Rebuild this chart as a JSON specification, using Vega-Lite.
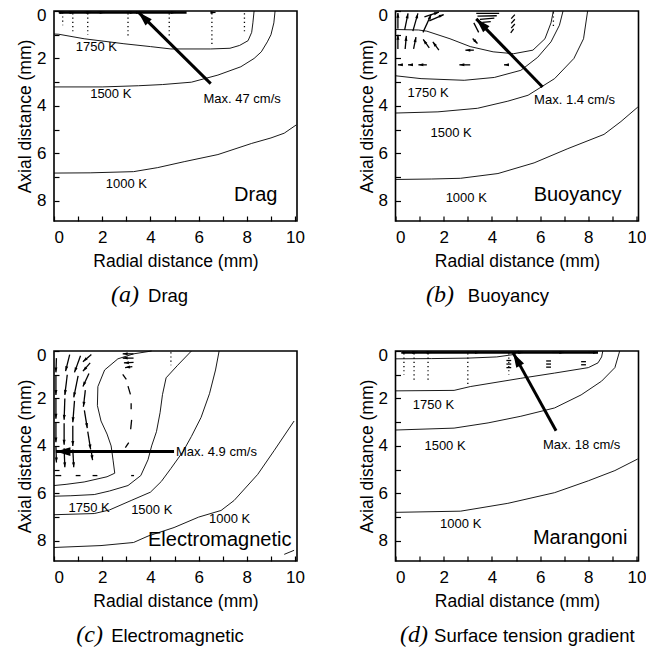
{
"$schema": "https://vega.github.io/schema/vega-lite/v6.json",
"padding": {"left": 15, "top": 5, "right": 0, "bottom": 0},
"datasets": {"all": [
{"p":"a","k":"c","g":1,"x":0,"y":0.97},{"p":"a","k":"c","g":1,"x":0.2,"y":0.98},{"p":"a","k":"c","g":1,"x":1.25,"y":1.17},{"p":"a","k":"c","g":1,"x":2.9,"y":1.38},{"p":"a","k":"c","g":1,"x":4.0,"y":1.5},{"p":"a","k":"c","g":1,"x":4.85,"y":1.6},{"p":"a","k":"c","g":1,"x":6.5,"y":1.6},{"p":"a","k":"c","g":1,"x":7.3,"y":1.57},{"p":"a","k":"c","g":1,"x":7.7,"y":1.45},{"p":"a","k":"c","g":1,"x":8.05,"y":1.25},{"p":"a","k":"c","g":1,"x":8.2,"y":0.9},{"p":"a","k":"c","g":1,"x":8.25,"y":0.5},{"p":"a","k":"c","g":1,"x":8.3,"y":0},
{"p":"a","k":"c","g":2,"x":0,"y":3.2},{"p":"a","k":"c","g":2,"x":2.0,"y":3.2},{"p":"a","k":"c","g":2,"x":3.5,"y":3.15},{"p":"a","k":"c","g":2,"x":4.5,"y":3.1},{"p":"a","k":"c","g":2,"x":5.7,"y":3.0},{"p":"a","k":"c","g":2,"x":6.8,"y":2.7},{"p":"a","k":"c","g":2,"x":7.75,"y":2.35},{"p":"a","k":"c","g":2,"x":8.3,"y":2.0},{"p":"a","k":"c","g":2,"x":8.6,"y":1.72},{"p":"a","k":"c","g":2,"x":8.85,"y":1.3},{"p":"a","k":"c","g":2,"x":9.0,"y":1.0},{"p":"a","k":"c","g":2,"x":9.12,"y":0.5},{"p":"a","k":"c","g":2,"x":9.17,"y":0},
{"p":"a","k":"c","g":3,"x":0,"y":6.83},{"p":"a","k":"c","g":3,"x":1.5,"y":6.82},{"p":"a","k":"c","g":3,"x":3.3,"y":6.77},{"p":"a","k":"c","g":3,"x":4.3,"y":6.6},{"p":"a","k":"c","g":3,"x":5.4,"y":6.35},{"p":"a","k":"c","g":3,"x":6.8,"y":6.05},{"p":"a","k":"c","g":3,"x":8.2,"y":5.58},{"p":"a","k":"c","g":3,"x":9.0,"y":5.35},{"p":"a","k":"c","g":3,"x":9.55,"y":5.15},{"p":"a","k":"c","g":3,"x":10.05,"y":4.8},
{"p":"b","k":"c","g":1,"x":0,"y":0.78},{"p":"b","k":"c","g":1,"x":0.95,"y":0.8},{"p":"b","k":"c","g":1,"x":1.3,"y":0.85},{"p":"b","k":"c","g":1,"x":2.26,"y":1.17},{"p":"b","k":"c","g":1,"x":3.1,"y":1.5},{"p":"b","k":"c","g":1,"x":4.05,"y":1.72},{"p":"b","k":"c","g":1,"x":4.9,"y":1.8},{"p":"b","k":"c","g":1,"x":5.7,"y":1.65},{"p":"b","k":"c","g":1,"x":6.2,"y":1.17},{"p":"b","k":"c","g":1,"x":6.45,"y":0.5},{"p":"b","k":"c","g":1,"x":6.55,"y":0},
{"p":"b","k":"c","g":2,"x":0,"y":2.73},{"p":"b","k":"c","g":2,"x":1.06,"y":2.85},{"p":"b","k":"c","g":2,"x":2.85,"y":2.92},{"p":"b","k":"c","g":2,"x":4.1,"y":2.8},{"p":"b","k":"c","g":2,"x":5.2,"y":2.5},{"p":"b","k":"c","g":2,"x":5.9,"y":1.95},{"p":"b","k":"c","g":2,"x":6.45,"y":1.3},{"p":"b","k":"c","g":2,"x":6.8,"y":0.6},{"p":"b","k":"c","g":2,"x":6.95,"y":0},
{"p":"b","k":"c","g":3,"x":0,"y":4.3},{"p":"b","k":"c","g":3,"x":1.76,"y":4.25},{"p":"b","k":"c","g":3,"x":3.4,"y":4.1},{"p":"b","k":"c","g":3,"x":4.66,"y":3.8},{"p":"b","k":"c","g":3,"x":5.5,"y":3.55},{"p":"b","k":"c","g":3,"x":6.6,"y":2.85},{"p":"b","k":"c","g":3,"x":7.4,"y":2.0},{"p":"b","k":"c","g":3,"x":7.8,"y":1.17},{"p":"b","k":"c","g":3,"x":7.97,"y":0},
{"p":"b","k":"c","g":4,"x":0,"y":7.1},{"p":"b","k":"c","g":4,"x":1.5,"y":7.08},{"p":"b","k":"c","g":4,"x":2.7,"y":7.05},{"p":"b","k":"c","g":4,"x":4.25,"y":6.85},{"p":"b","k":"c","g":4,"x":5.75,"y":6.4},{"p":"b","k":"c","g":4,"x":7.15,"y":5.8},{"p":"b","k":"c","g":4,"x":8.65,"y":5.2},{"p":"b","k":"c","g":4,"x":9.35,"y":4.66},{"p":"b","k":"c","g":4,"x":10.05,"y":4.05},
{"p":"c","k":"c","g":1,"x":4.05,"y":0},{"p":"c","k":"c","g":1,"x":3.3,"y":0.12},{"p":"c","k":"c","g":1,"x":2.65,"y":0.33},{"p":"c","k":"c","g":1,"x":2.1,"y":0.8},{"p":"c","k":"c","g":1,"x":1.82,"y":1.5},{"p":"c","k":"c","g":1,"x":1.8,"y":2.3},{"p":"c","k":"c","g":1,"x":1.95,"y":2.95},{"p":"c","k":"c","g":1,"x":2.2,"y":3.5},{"p":"c","k":"c","g":1,"x":2.37,"y":4.0},{"p":"c","k":"c","g":1,"x":2.45,"y":4.6},{"p":"c","k":"c","g":1,"x":2.52,"y":5.15},{"p":"c","k":"c","g":1,"x":2.2,"y":5.3},{"p":"c","k":"c","g":1,"x":1.25,"y":5.52},{"p":"c","k":"c","g":1,"x":0.5,"y":5.62},{"p":"c","k":"c","g":1,"x":0,"y":5.67},
{"p":"c","k":"c","g":2,"x":5.7,"y":0},{"p":"c","k":"c","g":2,"x":5.13,"y":0.6},{"p":"c","k":"c","g":2,"x":4.65,"y":1.13},{"p":"c","k":"c","g":2,"x":4.5,"y":1.84},{"p":"c","k":"c","g":2,"x":4.4,"y":2.6},{"p":"c","k":"c","g":2,"x":4.25,"y":3.4},{"p":"c","k":"c","g":2,"x":4.05,"y":4.0},{"p":"c","k":"c","g":2,"x":3.9,"y":4.58},{"p":"c","k":"c","g":2,"x":3.6,"y":5.25},{"p":"c","k":"c","g":2,"x":3.07,"y":5.67},{"p":"c","k":"c","g":2,"x":2.3,"y":5.9},{"p":"c","k":"c","g":2,"x":1.67,"y":6.05},{"p":"c","k":"c","g":2,"x":0.7,"y":6.1},{"p":"c","k":"c","g":2,"x":0,"y":6.12},
{"p":"c","k":"c","g":3,"x":6.85,"y":0},{"p":"c","k":"c","g":3,"x":6.7,"y":0.8},{"p":"c","k":"c","g":3,"x":6.45,"y":1.8},{"p":"c","k":"c","g":3,"x":6.1,"y":2.8},{"p":"c","k":"c","g":3,"x":5.7,"y":3.6},{"p":"c","k":"c","g":3,"x":5.35,"y":4.24},{"p":"c","k":"c","g":3,"x":4.85,"y":4.95},{"p":"c","k":"c","g":3,"x":4.45,"y":5.5},{"p":"c","k":"c","g":3,"x":4.0,"y":5.95},{"p":"c","k":"c","g":3,"x":3.2,"y":6.3},{"p":"c","k":"c","g":3,"x":2.3,"y":6.7},{"p":"c","k":"c","g":3,"x":1.67,"y":6.85},{"p":"c","k":"c","g":3,"x":0,"y":6.9},
{"p":"c","k":"c","g":4,"x":0,"y":8.28},{"p":"c","k":"c","g":4,"x":1.95,"y":8.2},{"p":"c","k":"c","g":4,"x":3.3,"y":8.07},{"p":"c","k":"c","g":4,"x":3.9,"y":7.8},{"p":"c","k":"c","g":4,"x":4.98,"y":7.44},{"p":"c","k":"c","g":4,"x":6.0,"y":7.0},{"p":"c","k":"c","g":4,"x":6.93,"y":6.72},{"p":"c","k":"c","g":4,"x":7.47,"y":6.3},{"p":"c","k":"c","g":4,"x":8.45,"y":5.2},{"p":"c","k":"c","g":4,"x":9.13,"y":4.2},{"p":"c","k":"c","g":4,"x":9.96,"y":2.95},
{"p":"c","k":"c","g":5,"x":9.55,"y":8.57},{"p":"c","k":"c","g":5,"x":9.96,"y":8.4},
{"p":"d","k":"c","g":1,"x":0,"y":0.33},{"p":"d","k":"c","g":1,"x":1.5,"y":0.32},{"p":"d","k":"c","g":1,"x":3.0,"y":0.3},{"p":"d","k":"c","g":1,"x":4.2,"y":0.25},{"p":"d","k":"c","g":1,"x":4.9,"y":0.15},{"p":"d","k":"c","g":1,"x":5.1,"y":0},
{"p":"d","k":"c","g":2,"x":0,"y":1.68},{"p":"d","k":"c","g":2,"x":2.43,"y":1.66},{"p":"d","k":"c","g":2,"x":3.1,"y":1.5},{"p":"d","k":"c","g":2,"x":5.2,"y":1.15},{"p":"d","k":"c","g":2,"x":6.6,"y":0.93},{"p":"d","k":"c","g":2,"x":8.0,"y":0.7},{"p":"d","k":"c","g":2,"x":8.4,"y":0.5},{"p":"d","k":"c","g":2,"x":8.55,"y":0.25},{"p":"d","k":"c","g":2,"x":8.6,"y":0},
{"p":"d","k":"c","g":3,"x":0,"y":3.33},{"p":"d","k":"c","g":3,"x":2.43,"y":3.25},{"p":"d","k":"c","g":3,"x":3.84,"y":3.03},{"p":"d","k":"c","g":3,"x":5.2,"y":2.75},{"p":"d","k":"c","g":3,"x":6.6,"y":2.4},{"p":"d","k":"c","g":3,"x":7.7,"y":1.85},{"p":"d","k":"c","g":3,"x":8.55,"y":1.27},{"p":"d","k":"c","g":3,"x":9.1,"y":0.7},{"p":"d","k":"c","g":3,"x":9.3,"y":0},
{"p":"d","k":"c","g":4,"x":0,"y":6.8},{"p":"d","k":"c","g":4,"x":2.7,"y":6.75},{"p":"d","k":"c","g":4,"x":4.66,"y":6.42},{"p":"d","k":"c","g":4,"x":6.6,"y":5.97},{"p":"d","k":"c","g":4,"x":8.0,"y":5.47},{"p":"d","k":"c","g":4,"x":9.1,"y":5.04},{"p":"d","k":"c","g":4,"x":10.05,"y":4.55},
{"p":"a","k":"d","x":0.36,"y":0.05,"y2":0.6},{"p":"a","k":"d","x":0.78,"y":0.1,"y2":0.9},{"p":"a","k":"d","x":1.4,"y":0.1,"y2":1.0},{"p":"a","k":"d","x":3.07,"y":0.1,"y2":1.1},{"p":"a","k":"d","x":4.78,"y":0.1,"y2":1.1},{"p":"a","k":"d","x":6.55,"y":0.1,"y2":1.45},{"p":"a","k":"d","x":7.9,"y":0.1,"y2":0.9},
{"p":"b","k":"d","x":6.55,"y":0.05,"y2":0.75},
{"p":"c","k":"d","x":4.85,"y":0.05,"y2":0.6},
{"p":"d","k":"d","x":0.35,"y":0.1,"y2":1.0},{"p":"d","k":"d","x":0.77,"y":0.1,"y2":1.3},{"p":"d","k":"d","x":1.35,"y":0.1,"y2":1.3},{"p":"d","k":"d","x":3.0,"y":0.1,"y2":1.4},{"p":"d","k":"d","x":4.7,"y":0.1,"y2":1.0},
{"p":"a","k":"s","x":0.2,"y":0.06,"x2":5.5},
{"p":"d","k":"s","x":0.3,"y":0.06,"x2":8.4},
{"p":"a","k":"v","x":0.2,"y":0.06,"x2":0.45,"y2":0.06,"a":90},{"p":"a","k":"v","x":0.6,"y":0.06,"x2":0.85,"y2":0.06,"a":90},{"p":"a","k":"v","x":1.25,"y":0.06,"x2":1.55,"y2":0.06,"a":90},{"p":"a","k":"v","x":1.8,"y":0.06,"x2":2.1,"y2":0.06,"a":90},{"p":"a","k":"v","x":3.0,"y":0.06,"x2":3.35,"y2":0.06,"a":90},{"p":"a","k":"v","x":3.3,"y":0.06,"x2":3.6,"y2":0.06,"a":90},{"p":"a","k":"v","x":4.7,"y":0.06,"x2":5.05,"y2":0.06,"a":90},{"p":"a","k":"v","x":6.5,"y":0.06,"x2":6.7,"y2":0.06,"a":90},
{"p":"b","k":"v","x":0.1,"y":0.75,"x2":0.1,"y2":0.08,"a":0},{"p":"b","k":"v","x":0.1,"y":1.6,"x2":0.1,"y2":1.0,"a":0},{"p":"b","k":"v","x":0.38,"y":0.8,"x2":0.52,"y2":0.1,"a":11},{"p":"b","k":"v","x":0.4,"y":1.6,"x2":0.45,"y2":1.05,"a":5},{"p":"b","k":"v","x":0.72,"y":0.85,"x2":0.93,"y2":0.1,"a":15},{"p":"b","k":"v","x":0.75,"y":1.6,"x2":0.85,"y2":1.1,"a":11},{"p":"b","k":"v","x":1.14,"y":0.9,"x2":1.48,"y2":0.15,"a":24},{"p":"b","k":"v","x":1.4,"y":1.55,"x2":1.15,"y2":1.2,"a":325},{"p":"b","k":"v","x":1.8,"y":1.65,"x2":1.55,"y2":1.3,"a":325},{"p":"b","k":"v","x":1.2,"y":0.25,"x2":1.8,"y2":0.05,"a":72},{"p":"b","k":"v","x":1.4,"y":0.42,"x2":2.0,"y2":0.15,"a":68},
{"p":"b","k":"v","x":3.35,"y":0.1,"x2":4.3,"y2":0.1},{"p":"b","k":"v","x":3.4,"y":0.22,"x2":4.2,"y2":0.2},{"p":"b","k":"v","x":3.5,"y":0.35,"x2":4.1,"y2":0.3},{"p":"b","k":"v","x":3.6,"y":0.48,"x2":3.95,"y2":0.45},{"p":"b","k":"v","x":3.45,"y":0.9,"x2":3.25,"y2":0.5},{"p":"b","k":"v","x":3.2,"y":1.16,"x2":3.4,"y2":1.37,"a":137},{"p":"b","k":"v","x":3.25,"y":1.65,"x2":2.9,"y2":1.65,"a":270},
{"p":"b","k":"v","x":0.3,"y":2.27,"x2":0.1,"y2":2.27,"a":270},{"p":"b","k":"v","x":0.72,"y":2.27,"x2":0.52,"y2":2.27,"a":270},{"p":"b","k":"v","x":1.3,"y":2.27,"x2":0.95,"y2":2.27,"a":270},{"p":"b","k":"v","x":3.1,"y":2.27,"x2":2.65,"y2":2.27,"a":270},{"p":"b","k":"v","x":4.7,"y":2.27,"x2":4.5,"y2":2.27,"a":270},
{"p":"b","k":"v","x":4.95,"y":0.15,"x2":4.8,"y2":0.32},{"p":"b","k":"v","x":4.95,"y":0.35,"x2":4.8,"y2":0.52},{"p":"b","k":"v","x":4.95,"y":0.55,"x2":4.8,"y2":0.72},{"p":"b","k":"v","x":4.9,"y":0.75,"x2":4.78,"y2":0.92},
{"p":"c","k":"v","x":0.1,"y":0.3,"x2":0.08,"y2":0.9,"a":180},{"p":"c","k":"v","x":0.08,"y":1.05,"x2":0.08,"y2":1.85,"a":180},{"p":"c","k":"v","x":0.08,"y":2.0,"x2":0.08,"y2":2.85,"a":180},{"p":"c","k":"v","x":0.08,"y":3.0,"x2":0.08,"y2":3.85,"a":180},{"p":"c","k":"v","x":0.08,"y":4.0,"x2":0.1,"y2":4.7,"a":180},
{"p":"c","k":"v","x":0.65,"y":0.15,"x2":0.48,"y2":0.85,"a":194},{"p":"c","k":"v","x":0.55,"y":1.0,"x2":0.45,"y2":1.85,"a":187},{"p":"c","k":"v","x":0.45,"y":2.0,"x2":0.42,"y2":2.9,"a":182},{"p":"c","k":"v","x":0.42,"y":3.05,"x2":0.42,"y2":3.95,"a":180},{"p":"c","k":"v","x":0.42,"y":4.1,"x2":0.45,"y2":4.9,"a":178},
{"p":"c","k":"v","x":1.1,"y":0.2,"x2":0.85,"y2":0.9,"a":200},{"p":"c","k":"v","x":1.0,"y":1.05,"x2":0.82,"y2":1.95,"a":191},{"p":"c","k":"v","x":0.85,"y":2.1,"x2":0.78,"y2":3.0,"a":184},{"p":"c","k":"v","x":0.78,"y":3.15,"x2":0.78,"y2":4.0,"a":180},{"p":"c","k":"v","x":0.78,"y":4.15,"x2":0.82,"y2":4.9,"a":177},
{"p":"c","k":"v","x":1.55,"y":0.15,"x2":1.2,"y2":0.45,"a":229},{"p":"c","k":"v","x":1.5,"y":0.5,"x2":1.2,"y2":0.85,"a":221},{"p":"c","k":"v","x":1.45,"y":0.95,"x2":1.2,"y2":1.5,"a":204},{"p":"c","k":"v","x":1.3,"y":1.65,"x2":1.22,"y2":2.35,"a":187},{"p":"c","k":"v","x":1.26,"y":2.5,"x2":1.38,"y2":3.25,"a":171},{"p":"c","k":"v","x":1.4,"y":3.4,"x2":1.52,"y2":4.15,"a":171},{"p":"c","k":"v","x":1.55,"y":4.25,"x2":1.6,"y2":4.6,"a":172},
{"p":"c","k":"v","x":3.3,"y":0.12,"x2":2.85,"y2":0.12,"a":270},{"p":"c","k":"v","x":3.3,"y":0.3,"x2":2.85,"y2":0.3,"a":270},{"p":"c","k":"v","x":3.3,"y":0.48,"x2":2.9,"y2":0.5,"a":268},{"p":"c","k":"v","x":3.25,"y":0.66,"x2":2.95,"y2":0.7,"a":262},
{"p":"c","k":"v","x":2.85,"y":0.99,"x2":3.0,"y2":1.2},{"p":"c","k":"v","x":3.07,"y":1.48,"x2":3.17,"y2":1.83},{"p":"c","k":"v","x":3.2,"y":2.2,"x2":3.2,"y2":2.45},{"p":"c","k":"v","x":3.22,"y":2.9,"x2":3.18,"y2":3.3},{"p":"c","k":"v","x":3.1,"y":3.86,"x2":2.96,"y2":4.07},
{"p":"c","k":"v","x":0.05,"y":5.25,"x2":0.3,"y2":5.25},{"p":"c","k":"v","x":0.9,"y":5.25,"x2":1.1,"y2":5.25},{"p":"c","k":"v","x":1.6,"y":5.25,"x2":1.8,"y2":5.25},{"p":"c","k":"v","x":3.2,"y":5.25,"x2":3.32,"y2":5.25},
{"p":"d","k":"v","x":6.25,"y":0.42,"x2":6.45,"y2":0.42},{"p":"d","k":"v","x":6.25,"y":0.55,"x2":6.45,"y2":0.55},{"p":"d","k":"v","x":6.25,"y":0.68,"x2":6.45,"y2":0.68},{"p":"d","k":"v","x":7.7,"y":0.45,"x2":7.9,"y2":0.45},{"p":"d","k":"v","x":7.7,"y":0.58,"x2":7.9,"y2":0.58},{"p":"d","k":"v","x":4.6,"y":0.4,"x2":4.8,"y2":0.4},{"p":"d","k":"v","x":4.6,"y":0.55,"x2":4.8,"y2":0.55},{"p":"d","k":"v","x":4.6,"y":0.7,"x2":4.8,"y2":0.7},
{"p":"d","k":"v","x":0.25,"y":0.06,"x2":0.45,"y2":0.06,"a":90},{"p":"d","k":"v","x":0.7,"y":0.06,"x2":0.9,"y2":0.06,"a":90},{"p":"d","k":"v","x":1.25,"y":0.06,"x2":1.5,"y2":0.06,"a":90},{"p":"d","k":"v","x":3.0,"y":0.06,"x2":3.5,"y2":0.06,"a":90},{"p":"d","k":"v","x":4.8,"y":0.06,"x2":5.3,"y2":0.06,"a":90},{"p":"d","k":"v","x":6.5,"y":0.06,"x2":7.0,"y2":0.06,"a":90},{"p":"d","k":"v","x":8.0,"y":0.06,"x2":8.4,"y2":0.06,"a":90},
{"p":"a","k":"m","x":6.5,"y":3.06,"x2":3.5,"y2":0.05,"a":315},
{"p":"b","k":"m","x":6.1,"y":3.2,"x2":3.35,"y2":0.33,"a":316},
{"p":"c","k":"m","x":4.98,"y":4.24,"x2":0.08,"y2":4.24,"a":270},
{"p":"d","k":"m","x":6.66,"y":3.36,"x2":4.88,"y2":0.08,"a":331},
{"p":"a","k":"t","x":0.9,"y":1.5,"t":"1750 K"},{"p":"a","k":"t","x":1.5,"y":3.48,"t":"1500 K"},{"p":"a","k":"t","x":2.15,"y":7.3,"t":"1000 K"},{"p":"a","k":"t","x":6.2,"y":3.7,"t":"Max. 47 cm/s"},
{"p":"b","k":"t","x":0.5,"y":3.44,"t":"1750 K"},{"p":"b","k":"t","x":1.45,"y":5.15,"t":"1500 K"},{"p":"b","k":"t","x":2.08,"y":7.9,"t":"1000 K"},{"p":"b","k":"t","x":5.75,"y":3.75,"t":"Max. 1.4 cm/s"},
{"p":"c","k":"t","x":0.6,"y":6.6,"t":"1750 K"},{"p":"c","k":"t","x":3.2,"y":6.7,"t":"1500 K"},{"p":"c","k":"t","x":6.43,"y":7.1,"t":"1000 K"},{"p":"c","k":"t","x":5.06,"y":4.24,"t":"Max. 4.9 cm/s"},
{"p":"d","k":"t","x":0.72,"y":2.27,"t":"1750 K"},{"p":"d","k":"t","x":1.2,"y":3.99,"t":"1500 K"},{"p":"d","k":"t","x":1.85,"y":7.3,"t":"1000 K"},{"p":"d","k":"t","x":6.12,"y":3.95,"t":"Max. 18 cm/s"},
{"p":"a","k":"n","x":7.47,"y":7.75,"t":"Drag"},
{"p":"b","k":"n","x":5.73,"y":7.75,"t":"Buoyancy"},
{"p":"c","k":"n","x":3.9,"y":7.95,"t":"Electromagnetic"},
{"p":"d","k":"n","x":5.7,"y":7.9,"t":"Marangoni"},
{"p":"a","k":"L","x":3.53,"y":12.27,"t":"(a)"},{"p":"a","k":"C","x":3.9,"y":12.27,"t":"Drag"},
{"p":"b","k":"L","x":2.43,"y":12.27,"t":"(b)"},{"p":"b","k":"C","x":3.0,"y":12.27,"t":"Buoyancy"},
{"p":"c","k":"L","x":2.03,"y":12.27,"t":"(c)"},{"p":"c","k":"C","x":2.37,"y":12.27,"t":"Electromagnetic"},
{"p":"d","k":"L","x":1.35,"y":12.27,"t":"(d)"},{"p":"d","k":"C","x":1.6,"y":12.27,"t":"Surface tension gradient"}
]},
"data": {"name": "all"},
"columns": 2,
"spacing": {"row": 37, "column": 50.5},
"concat": [
{"transform": [{"filter": "datum.p == 'a'"}], "width": 243, "height": 210,
 "encoding": {
  "x": {"field": "x", "type": "quantitative", "scale": {"domain": [0, 10.08], "nice": false, "zero": false}, "axis": {"title": "Radial distance (mm)", "values": [0,1,2,3,4,5,6,7,8,9,10], "labelExpr": "datum.value % 2 == 0 ? datum.label : ''"}},
  "y": {"field": "y", "type": "quantitative", "scale": {"domain": [0, 8.85], "nice": false, "zero": false, "reverse": true}, "axis": {"title": "Axial distance (mm)", "values": [0,1,2,3,4,5,6,7,8], "labelExpr": "datum.value % 2 == 0 ? datum.label : ''"}}},
 "layer": [
  {"transform": [{"filter": "datum.k == 'c'"}], "mark": {"type": "line", "color": "black", "strokeWidth": 0.9}, "encoding": {"detail": {"field": "g", "type": "nominal"}, "order": {"value": null}}},
  {"transform": [{"filter": "datum.k == 'd'"}], "mark": {"type": "rule", "color": "black", "strokeWidth": 1.3, "strokeDash": [1.2, 3]}, "encoding": {"y2": {"field": "y2"}}},
  {"transform": [{"filter": "datum.k == 's'"}], "mark": {"type": "rule", "color": "black", "strokeWidth": 2.5}, "encoding": {"x2": {"field": "x2"}}},
  {"transform": [{"filter": "datum.k == 'v'"}], "mark": {"type": "rule", "color": "black", "strokeWidth": 1.3}, "encoding": {"x2": {"field": "x2"}, "y2": {"field": "y2"}}},
  {"transform": [{"filter": "datum.k == 'v' && isValid(datum.a)"}], "mark": {"type": "point", "shape": "M0,0L0.55,1.8L-0.55,1.8Z", "filled": true, "color": "black", "opacity": 1, "size": 30},
   "encoding": {"x": {"field": "x2", "type": "quantitative", "scale": {"domain": [0, 10.08], "nice": false, "zero": false}, "axis": {"title": "Radial distance (mm)", "values": [0,1,2,3,4,5,6,7,8,9,10], "labelExpr": "datum.value % 2 == 0 ? datum.label : ''"}},
                "y": {"field": "y2", "type": "quantitative", "scale": {"domain": [0, 8.85], "nice": false, "zero": false, "reverse": true}, "axis": {"title": "Axial distance (mm)", "values": [0,1,2,3,4,5,6,7,8], "labelExpr": "datum.value % 2 == 0 ? datum.label : ''"}},
                "angle": {"field": "a", "type": "quantitative", "scale": null}}},
  {"transform": [{"filter": "datum.k == 'm'"}], "mark": {"type": "rule", "color": "black", "strokeWidth": 3}, "encoding": {"x2": {"field": "x2"}, "y2": {"field": "y2"}}},
  {"transform": [{"filter": "datum.k == 'm'"}], "mark": {"type": "point", "shape": "M0,0L0.55,1.8L-0.55,1.8Z", "filled": true, "color": "black", "opacity": 1, "size": 260},
   "encoding": {"x": {"field": "x2", "type": "quantitative", "scale": {"domain": [0, 10.08], "nice": false, "zero": false}, "axis": {"title": "Radial distance (mm)", "values": [0,1,2,3,4,5,6,7,8,9,10], "labelExpr": "datum.value % 2 == 0 ? datum.label : ''"}},
                "y": {"field": "y2", "type": "quantitative", "scale": {"domain": [0, 8.85], "nice": false, "zero": false, "reverse": true}, "axis": {"title": "Axial distance (mm)", "values": [0,1,2,3,4,5,6,7,8], "labelExpr": "datum.value % 2 == 0 ? datum.label : ''"}},
                "angle": {"field": "a", "type": "quantitative", "scale": null}}},
  {"transform": [{"filter": "datum.k == 't'"}], "mark": {"type": "text", "align": "left", "baseline": "middle", "fontSize": 13, "color": "black"}, "encoding": {"text": {"field": "t"}}},
  {"transform": [{"filter": "datum.k == 'n'"}], "mark": {"type": "text", "align": "left", "baseline": "middle", "fontSize": 20, "color": "black"}, "encoding": {"text": {"field": "t"}}},
  {"transform": [{"filter": "datum.k == 'L'"}], "mark": {"type": "text", "align": "right", "baseline": "alphabetic", "fontSize": 24, "font": "Liberation Serif", "fontStyle": "italic", "color": "black"}, "encoding": {"text": {"field": "t"}}},
  {"transform": [{"filter": "datum.k == 'C'"}], "mark": {"type": "text", "align": "left", "baseline": "alphabetic", "fontSize": 18.5, "color": "black"}, "encoding": {"text": {"field": "t"}}}
 ]},
{"transform": [{"filter": "datum.p == 'b'"}], "width": 243, "height": 210,
 "encoding": {
  "x": {"field": "x", "type": "quantitative", "scale": {"domain": [0, 10.08], "nice": false, "zero": false}, "axis": {"title": "Radial distance (mm)", "values": [0,1,2,3,4,5,6,7,8,9,10], "labelExpr": "datum.value % 2 == 0 ? datum.label : ''"}},
  "y": {"field": "y", "type": "quantitative", "scale": {"domain": [0, 8.85], "nice": false, "zero": false, "reverse": true}, "axis": {"title": "Axial distance (mm)", "values": [0,1,2,3,4,5,6,7,8], "labelExpr": "datum.value % 2 == 0 ? datum.label : ''"}}},
 "layer": [
  {"transform": [{"filter": "datum.k == 'c'"}], "mark": {"type": "line", "color": "black", "strokeWidth": 0.9}, "encoding": {"detail": {"field": "g", "type": "nominal"}, "order": {"value": null}}},
  {"transform": [{"filter": "datum.k == 'd'"}], "mark": {"type": "rule", "color": "black", "strokeWidth": 1.3, "strokeDash": [1.2, 3]}, "encoding": {"y2": {"field": "y2"}}},
  {"transform": [{"filter": "datum.k == 's'"}], "mark": {"type": "rule", "color": "black", "strokeWidth": 2.5}, "encoding": {"x2": {"field": "x2"}}},
  {"transform": [{"filter": "datum.k == 'v'"}], "mark": {"type": "rule", "color": "black", "strokeWidth": 1.3}, "encoding": {"x2": {"field": "x2"}, "y2": {"field": "y2"}}},
  {"transform": [{"filter": "datum.k == 'v' && isValid(datum.a)"}], "mark": {"type": "point", "shape": "M0,0L0.55,1.8L-0.55,1.8Z", "filled": true, "color": "black", "opacity": 1, "size": 30},
   "encoding": {"x": {"field": "x2", "type": "quantitative", "scale": {"domain": [0, 10.08], "nice": false, "zero": false}, "axis": {"title": "Radial distance (mm)", "values": [0,1,2,3,4,5,6,7,8,9,10], "labelExpr": "datum.value % 2 == 0 ? datum.label : ''"}},
                "y": {"field": "y2", "type": "quantitative", "scale": {"domain": [0, 8.85], "nice": false, "zero": false, "reverse": true}, "axis": {"title": "Axial distance (mm)", "values": [0,1,2,3,4,5,6,7,8], "labelExpr": "datum.value % 2 == 0 ? datum.label : ''"}},
                "angle": {"field": "a", "type": "quantitative", "scale": null}}},
  {"transform": [{"filter": "datum.k == 'm'"}], "mark": {"type": "rule", "color": "black", "strokeWidth": 3}, "encoding": {"x2": {"field": "x2"}, "y2": {"field": "y2"}}},
  {"transform": [{"filter": "datum.k == 'm'"}], "mark": {"type": "point", "shape": "M0,0L0.55,1.8L-0.55,1.8Z", "filled": true, "color": "black", "opacity": 1, "size": 260},
   "encoding": {"x": {"field": "x2", "type": "quantitative", "scale": {"domain": [0, 10.08], "nice": false, "zero": false}, "axis": {"title": "Radial distance (mm)", "values": [0,1,2,3,4,5,6,7,8,9,10], "labelExpr": "datum.value % 2 == 0 ? datum.label : ''"}},
                "y": {"field": "y2", "type": "quantitative", "scale": {"domain": [0, 8.85], "nice": false, "zero": false, "reverse": true}, "axis": {"title": "Axial distance (mm)", "values": [0,1,2,3,4,5,6,7,8], "labelExpr": "datum.value % 2 == 0 ? datum.label : ''"}},
                "angle": {"field": "a", "type": "quantitative", "scale": null}}},
  {"transform": [{"filter": "datum.k == 't'"}], "mark": {"type": "text", "align": "left", "baseline": "middle", "fontSize": 13, "color": "black"}, "encoding": {"text": {"field": "t"}}},
  {"transform": [{"filter": "datum.k == 'n'"}], "mark": {"type": "text", "align": "left", "baseline": "middle", "fontSize": 20, "color": "black"}, "encoding": {"text": {"field": "t"}}},
  {"transform": [{"filter": "datum.k == 'L'"}], "mark": {"type": "text", "align": "right", "baseline": "alphabetic", "fontSize": 24, "font": "Liberation Serif", "fontStyle": "italic", "color": "black"}, "encoding": {"text": {"field": "t"}}},
  {"transform": [{"filter": "datum.k == 'C'"}], "mark": {"type": "text", "align": "left", "baseline": "alphabetic", "fontSize": 18.5, "color": "black"}, "encoding": {"text": {"field": "t"}}}
 ]},
{"transform": [{"filter": "datum.p == 'c'"}], "width": 243, "height": 210,
 "encoding": {
  "x": {"field": "x", "type": "quantitative", "scale": {"domain": [0, 10.08], "nice": false, "zero": false}, "axis": {"title": "Radial distance (mm)", "values": [0,1,2,3,4,5,6,7,8,9,10], "labelExpr": "datum.value % 2 == 0 ? datum.label : ''"}},
  "y": {"field": "y", "type": "quantitative", "scale": {"domain": [0, 8.85], "nice": false, "zero": false, "reverse": true}, "axis": {"title": "Axial distance (mm)", "values": [0,1,2,3,4,5,6,7,8], "labelExpr": "datum.value % 2 == 0 ? datum.label : ''"}}},
 "layer": [
  {"transform": [{"filter": "datum.k == 'c'"}], "mark": {"type": "line", "color": "black", "strokeWidth": 0.9}, "encoding": {"detail": {"field": "g", "type": "nominal"}, "order": {"value": null}}},
  {"transform": [{"filter": "datum.k == 'd'"}], "mark": {"type": "rule", "color": "black", "strokeWidth": 1.3, "strokeDash": [1.2, 3]}, "encoding": {"y2": {"field": "y2"}}},
  {"transform": [{"filter": "datum.k == 's'"}], "mark": {"type": "rule", "color": "black", "strokeWidth": 2.5}, "encoding": {"x2": {"field": "x2"}}},
  {"transform": [{"filter": "datum.k == 'v'"}], "mark": {"type": "rule", "color": "black", "strokeWidth": 1.3}, "encoding": {"x2": {"field": "x2"}, "y2": {"field": "y2"}}},
  {"transform": [{"filter": "datum.k == 'v' && isValid(datum.a)"}], "mark": {"type": "point", "shape": "M0,0L0.55,1.8L-0.55,1.8Z", "filled": true, "color": "black", "opacity": 1, "size": 30},
   "encoding": {"x": {"field": "x2", "type": "quantitative", "scale": {"domain": [0, 10.08], "nice": false, "zero": false}, "axis": {"title": "Radial distance (mm)", "values": [0,1,2,3,4,5,6,7,8,9,10], "labelExpr": "datum.value % 2 == 0 ? datum.label : ''"}},
                "y": {"field": "y2", "type": "quantitative", "scale": {"domain": [0, 8.85], "nice": false, "zero": false, "reverse": true}, "axis": {"title": "Axial distance (mm)", "values": [0,1,2,3,4,5,6,7,8], "labelExpr": "datum.value % 2 == 0 ? datum.label : ''"}},
                "angle": {"field": "a", "type": "quantitative", "scale": null}}},
  {"transform": [{"filter": "datum.k == 'm'"}], "mark": {"type": "rule", "color": "black", "strokeWidth": 3}, "encoding": {"x2": {"field": "x2"}, "y2": {"field": "y2"}}},
  {"transform": [{"filter": "datum.k == 'm'"}], "mark": {"type": "point", "shape": "M0,0L0.55,1.8L-0.55,1.8Z", "filled": true, "color": "black", "opacity": 1, "size": 260},
   "encoding": {"x": {"field": "x2", "type": "quantitative", "scale": {"domain": [0, 10.08], "nice": false, "zero": false}, "axis": {"title": "Radial distance (mm)", "values": [0,1,2,3,4,5,6,7,8,9,10], "labelExpr": "datum.value % 2 == 0 ? datum.label : ''"}},
                "y": {"field": "y2", "type": "quantitative", "scale": {"domain": [0, 8.85], "nice": false, "zero": false, "reverse": true}, "axis": {"title": "Axial distance (mm)", "values": [0,1,2,3,4,5,6,7,8], "labelExpr": "datum.value % 2 == 0 ? datum.label : ''"}},
                "angle": {"field": "a", "type": "quantitative", "scale": null}}},
  {"transform": [{"filter": "datum.k == 't'"}], "mark": {"type": "text", "align": "left", "baseline": "middle", "fontSize": 13, "color": "black"}, "encoding": {"text": {"field": "t"}}},
  {"transform": [{"filter": "datum.k == 'n'"}], "mark": {"type": "text", "align": "left", "baseline": "middle", "fontSize": 20, "color": "black"}, "encoding": {"text": {"field": "t"}}},
  {"transform": [{"filter": "datum.k == 'L'"}], "mark": {"type": "text", "align": "right", "baseline": "alphabetic", "fontSize": 24, "font": "Liberation Serif", "fontStyle": "italic", "color": "black"}, "encoding": {"text": {"field": "t"}}},
  {"transform": [{"filter": "datum.k == 'C'"}], "mark": {"type": "text", "align": "left", "baseline": "alphabetic", "fontSize": 18.5, "color": "black"}, "encoding": {"text": {"field": "t"}}}
 ]},
{"transform": [{"filter": "datum.p == 'd'"}], "width": 243, "height": 210,
 "encoding": {
  "x": {"field": "x", "type": "quantitative", "scale": {"domain": [0, 10.08], "nice": false, "zero": false}, "axis": {"title": "Radial distance (mm)", "values": [0,1,2,3,4,5,6,7,8,9,10], "labelExpr": "datum.value % 2 == 0 ? datum.label : ''"}},
  "y": {"field": "y", "type": "quantitative", "scale": {"domain": [0, 8.85], "nice": false, "zero": false, "reverse": true}, "axis": {"title": "Axial distance (mm)", "values": [0,1,2,3,4,5,6,7,8], "labelExpr": "datum.value % 2 == 0 ? datum.label : ''"}}},
 "layer": [
  {"transform": [{"filter": "datum.k == 'c'"}], "mark": {"type": "line", "color": "black", "strokeWidth": 0.9}, "encoding": {"detail": {"field": "g", "type": "nominal"}, "order": {"value": null}}},
  {"transform": [{"filter": "datum.k == 'd'"}], "mark": {"type": "rule", "color": "black", "strokeWidth": 1.3, "strokeDash": [1.2, 3]}, "encoding": {"y2": {"field": "y2"}}},
  {"transform": [{"filter": "datum.k == 's'"}], "mark": {"type": "rule", "color": "black", "strokeWidth": 2.5}, "encoding": {"x2": {"field": "x2"}}},
  {"transform": [{"filter": "datum.k == 'v'"}], "mark": {"type": "rule", "color": "black", "strokeWidth": 1.3}, "encoding": {"x2": {"field": "x2"}, "y2": {"field": "y2"}}},
  {"transform": [{"filter": "datum.k == 'v' && isValid(datum.a)"}], "mark": {"type": "point", "shape": "M0,0L0.55,1.8L-0.55,1.8Z", "filled": true, "color": "black", "opacity": 1, "size": 30},
   "encoding": {"x": {"field": "x2", "type": "quantitative", "scale": {"domain": [0, 10.08], "nice": false, "zero": false}, "axis": {"title": "Radial distance (mm)", "values": [0,1,2,3,4,5,6,7,8,9,10], "labelExpr": "datum.value % 2 == 0 ? datum.label : ''"}},
                "y": {"field": "y2", "type": "quantitative", "scale": {"domain": [0, 8.85], "nice": false, "zero": false, "reverse": true}, "axis": {"title": "Axial distance (mm)", "values": [0,1,2,3,4,5,6,7,8], "labelExpr": "datum.value % 2 == 0 ? datum.label : ''"}},
                "angle": {"field": "a", "type": "quantitative", "scale": null}}},
  {"transform": [{"filter": "datum.k == 'm'"}], "mark": {"type": "rule", "color": "black", "strokeWidth": 3}, "encoding": {"x2": {"field": "x2"}, "y2": {"field": "y2"}}},
  {"transform": [{"filter": "datum.k == 'm'"}], "mark": {"type": "point", "shape": "M0,0L0.55,1.8L-0.55,1.8Z", "filled": true, "color": "black", "opacity": 1, "size": 260},
   "encoding": {"x": {"field": "x2", "type": "quantitative", "scale": {"domain": [0, 10.08], "nice": false, "zero": false}, "axis": {"title": "Radial distance (mm)", "values": [0,1,2,3,4,5,6,7,8,9,10], "labelExpr": "datum.value % 2 == 0 ? datum.label : ''"}},
                "y": {"field": "y2", "type": "quantitative", "scale": {"domain": [0, 8.85], "nice": false, "zero": false, "reverse": true}, "axis": {"title": "Axial distance (mm)", "values": [0,1,2,3,4,5,6,7,8], "labelExpr": "datum.value % 2 == 0 ? datum.label : ''"}},
                "angle": {"field": "a", "type": "quantitative", "scale": null}}},
  {"transform": [{"filter": "datum.k == 't'"}], "mark": {"type": "text", "align": "left", "baseline": "middle", "fontSize": 13, "color": "black"}, "encoding": {"text": {"field": "t"}}},
  {"transform": [{"filter": "datum.k == 'n'"}], "mark": {"type": "text", "align": "left", "baseline": "middle", "fontSize": 20, "color": "black"}, "encoding": {"text": {"field": "t"}}},
  {"transform": [{"filter": "datum.k == 'L'"}], "mark": {"type": "text", "align": "right", "baseline": "alphabetic", "fontSize": 24, "font": "Liberation Serif", "fontStyle": "italic", "color": "black"}, "encoding": {"text": {"field": "t"}}},
  {"transform": [{"filter": "datum.k == 'C'"}], "mark": {"type": "text", "align": "left", "baseline": "alphabetic", "fontSize": 18.5, "color": "black"}, "encoding": {"text": {"field": "t"}}}
 ]}
],
"config": {
  "view": {"stroke": "black", "strokeWidth": 1.6},
  "font": "Liberation Sans",
  "axis": {"domain": false, "grid": false, "ticks": true, "tickSize": -5, "tickColor": "black", "tickWidth": 1.2,
           "labelFont": "Liberation Sans", "labelFontSize": 17, "labelColor": "black", "labelPadding": 13,
           "titleFont": "Liberation Sans", "titleFontSize": 17.5, "titleFontWeight": "normal", "titleColor": "black"},
  "axisX": {"titlePadding": 7},
  "axisY": {"titlePadding": 2, "labelFlush": true, "labelFlushOffset": 4}
}
}
